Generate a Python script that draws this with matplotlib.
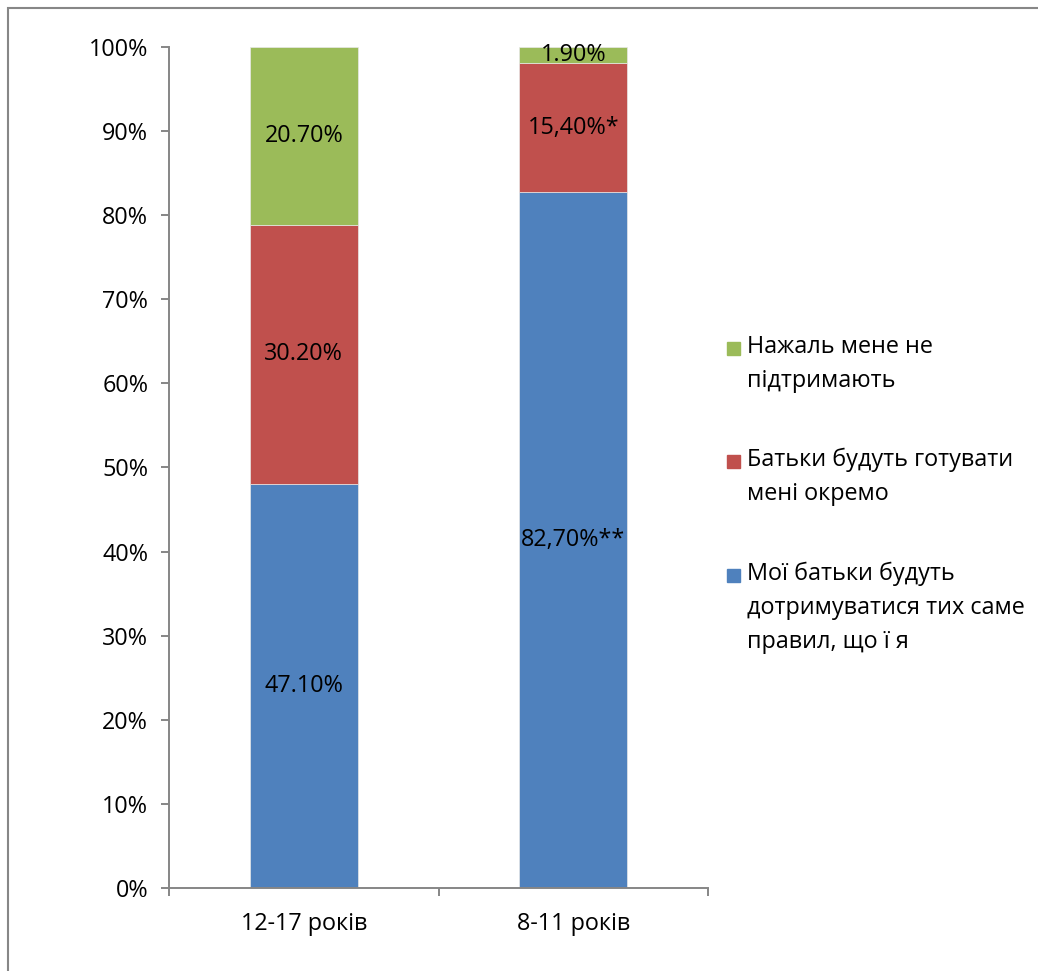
import numpy as np
import matplotlib
matplotlib.use('Agg')
from matplotlib import pyplot as plt
from matplotlib.patches import Rectangle
from matplotlib.ticker import PercentFormatter

plt.rcParams['font.family'] = ['Open Sans', 'DejaVu Sans']

groups = ['12-17 років', '8-11 років']
# raw shares per answer, bottom to top
support_same = [47.10, 82.70]
cook_separately = [30.20, 15.40]
no_support = [20.70, 1.90]
label_support_same = ['47.10%', '82,70%**']
label_cook_separately = ['30.20%', '15,40%*']
label_no_support = ['20.70%', '1.90%']

series_names = ['Мої батьки будуть\nдотримуватися тих саме\nправил, що ї я',
                'Батьки будуть готувати\nмені окремо',
                'Нажаль мене не\nпідтримають']
colors = ['#4F81BD', '#C0504D', '#9BBB59']

FS = 16.8
W, H = 1038, 971
fig = plt.figure(figsize=(W / 100, H / 100), dpi=100)
ax = fig.add_axes([169 / W, 1 - 888 / H, (708 - 169) / W, (888 - 47) / H])

raw = np.array([support_same, cook_separately, no_support])
totals = raw.sum(axis=0)
shares = raw / totals * 100
labels = [label_support_same, label_cook_separately, label_no_support]

x = np.arange(len(groups))
bottom = np.zeros(len(groups))
for vals, col, labs in zip(shares, colors, labels):
    ax.bar(x, vals, width=0.4, bottom=bottom, color=col, edgecolor='#e8e8e8', linewidth=0.5)
    for xi, b, v, t in zip(x, bottom, vals, labs):
        ax.text(xi, b + v / 2, t, ha='center', va='center', fontsize=FS, color='black')
    bottom += vals

ax.set_xlim(-0.5, 1.5)
ax.set_ylim(0, 100)
ax.set_yticks(np.arange(0, 101, 10))
ax.yaxis.set_major_formatter(PercentFormatter(decimals=0))
ax.set_xticks([-0.5, 0.5, 1.5])
ax.set_xticklabels([])
ax.set_xticks(x, minor=True)
ax.set_xticklabels(groups, minor=True)
ax.tick_params(axis='x', which='minor', length=0, pad=17, labelsize=FS)
ax.tick_params(axis='x', which='major', length=6, width=1.4, color='#868686')
ax.tick_params(axis='y', length=6, width=1.4, color='#868686', pad=9, labelsize=FS)

for s in ['top', 'right']:
    ax.spines[s].set_visible(False)
for s in ['left', 'bottom']:
    ax.spines[s].set_color('#868686')
    ax.spines[s].set_linewidth(1.4)

# legend, drawn top to bottom
leg_tops = [335, 448, 562]
for name, col, ytop in zip(series_names[::-1], colors[::-1], leg_tops):
    fig.patches.append(Rectangle((727 / W, 1 - (ytop + 20) / H), 13 / W, 13 / H,
                                 transform=fig.transFigure, color=col))
    fig.text(747 / W, 1 - ytop / H, name, ha='left', va='top', fontsize=FS,
             linespacing=1.55)

# outer chart frame
fig.patches.append(Rectangle((8 / W, -0.2), 1.5, 1.2 - 8 / H,
                             transform=fig.transFigure, fill=False,
                             edgecolor='#878787', linewidth=1.5))

fig.savefig('out.png', dpi=100)
